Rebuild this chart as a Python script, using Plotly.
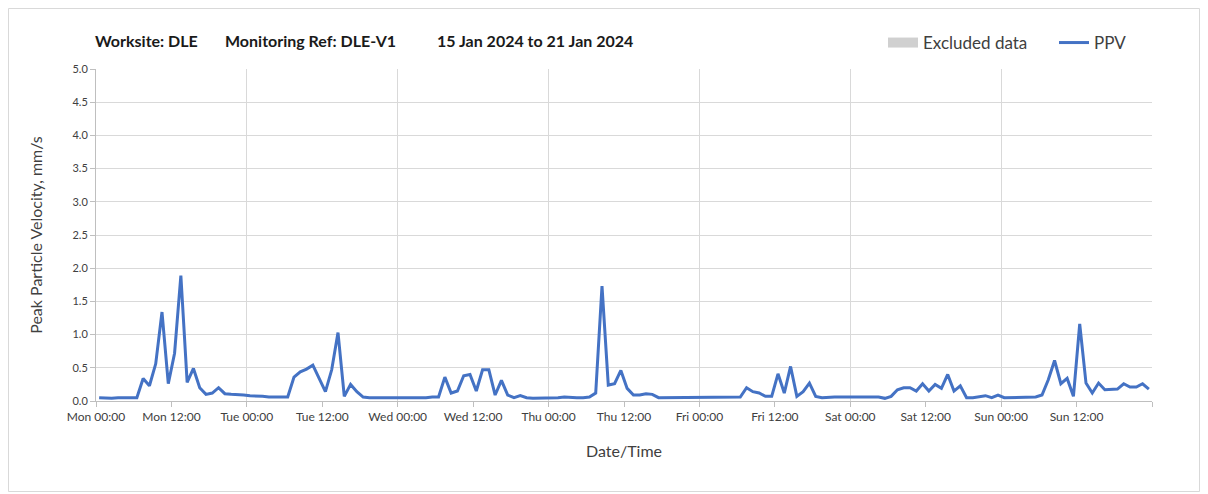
import pandas as pd
import plotly.graph_objects as go

# Hourly PPV readings (mm/s), Mon 15 Jan 2024 00:30 .. Sun 21 Jan 2024 23:30
times = pd.date_range("2024-01-15 00:30", periods=168, freq="h")
ppv = [
    0.05, 0.04, 0.04, 0.05, 0.05, 0.05, 0.05,
    0.34, 0.23, 0.56, 1.34, 0.26, 0.72, 1.89,
    0.28, 0.49, 0.20, 0.10, 0.12, 0.20, 0.11,
    0.10, 0.10, 0.09, 0.08, 0.08, 0.07, 0.06, 0.06, 0.06, 0.06,
    0.36, 0.44, 0.48, 0.54, 0.34, 0.14, 0.47, 1.03, 0.07, 0.25, 0.14, 0.06,
    0.05, 0.05, 0.05, 0.04, 0.05, 0.05, 0.05, 0.05, 0.05, 0.05, 0.06, 0.06,
    0.36, 0.12, 0.15, 0.38, 0.40, 0.15, 0.47, 0.47, 0.09, 0.31, 0.09, 0.05, 0.08, 0.05,
    0.04, 0.04, 0.05, 0.05, 0.05, 0.06, 0.05, 0.05, 0.05, 0.06,
    0.12, 1.73, 0.24, 0.26, 0.46, 0.19, 0.09, 0.09, 0.11, 0.10, 0.05,
    0.05, 0.05, 0.05, 0.05, 0.05, 0.05, 0.06, 0.05, 0.05, 0.05, 0.05, 0.05,
    0.06, 0.20, 0.14, 0.12, 0.07, 0.07, 0.41, 0.12, 0.52, 0.07, 0.14, 0.27, 0.07, 0.05,
    0.06, 0.06, 0.06, 0.06, 0.06, 0.06, 0.06, 0.06, 0.06,
    0.04, 0.07, 0.17, 0.20, 0.20, 0.15, 0.26, 0.15, 0.25, 0.19, 0.40, 0.15, 0.23,
    0.05, 0.05, 0.06, 0.08, 0.05, 0.09,
    0.05, 0.05, 0.05, 0.05, 0.05, 0.06,
    0.09, 0.32, 0.61, 0.26, 0.34, 0.07, 1.16, 0.27, 0.12, 0.27, 0.17, 0.18,
    0.18, 0.26, 0.21, 0.21, 0.26, 0.18,
]

tick_times = pd.date_range("2024-01-15 00:00", periods=15, freq="12h")
tick_labels = ["Mon 00:00", "Mon 12:00", "Tue 00:00", "Tue 12:00", "Wed 00:00",
               "Wed 12:00", "Thu 00:00", "Thu 12:00", "Fri 00:00", "Fri 12:00",
               "Sat 00:00", "Sat 12:00", "Sun 00:00", "Sun 12:00", ""]
x_range = ["2024-01-15 00:00", "2024-01-22 00:00"]

title_parts = ["Worksite: DLE", "Monitoring Ref: DLE-V1", "15 Jan 2024 to 21 Jan 2024"]
title_left_px = [85, 215, 427]

FONT = "Lato"
GRID = "#d9d9d9"
AXIS = "#bfbfbf"
TXT = "#404040"

W, H = 1192, 484
L, R, T, B = 88, 48, 61, 91
PW, PH = W - L - R, H - T - B

fig = go.Figure()

fig.add_trace(go.Scatter(
    x=[None], y=[None], name="Excluded data", mode="lines",
    line=dict(color="#d0d0d0", width=10), xaxis="x2", showlegend=True,
))
fig.add_trace(go.Scatter(
    x=times, y=ppv, mode="lines", name="PPV",
    line=dict(color="#4472C4", width=3),
))

for txt, px in zip(title_parts, title_left_px):
    fig.add_annotation(text=f"<b>{txt}</b>", xref="paper", yref="paper",
                       x=(px - L) / PW, y=(H - B - 32) / PH, xanchor="left", yanchor="middle",
                       showarrow=False, font=dict(family=FONT, size=16, color="#1a1a1a"))

fig.update_layout(
    width=W, height=H,
    margin=dict(l=L, r=R, t=T, b=B, autoexpand=False),
    paper_bgcolor="white", plot_bgcolor="white",
    font=dict(family=FONT, color=TXT, size=12),
    showlegend=True,
    legend=dict(orientation="h", x=(875 - L) / PW, xanchor="left",
                y=(H - B - 35) / PH, yanchor="middle",
                font=dict(size=17, color=TXT), bgcolor="rgba(0,0,0,0)",
                traceorder="normal", itemwidth=30, entrywidth=126, entrywidthmode="pixels"),
    xaxis=dict(
        type="date", range=x_range, tickmode="array", tickvals=tick_times, ticktext=tick_labels,
        showgrid=False, showline=True, linecolor=AXIS, linewidth=1,
        ticks="outside", ticklen=5, tickcolor=AXIS, tickfont=dict(size=12, color=TXT),
        title=dict(text="Date/Time", font=dict(size=16, color=TXT), standoff=22),
        zeroline=False, automargin=False,
    ),
    xaxis2=dict(
        type="date", range=x_range, overlaying="x", anchor="y", tickmode="linear",
        tick0="2024-01-15 00:00", dtick=86400000, showgrid=True, gridcolor=GRID,
        gridwidth=1, showticklabels=False, ticks="", showline=False, zeroline=False,
        automargin=False,
    ),
    yaxis=dict(
        range=[0, 5], dtick=0.5, tick0=0, tickformat=".1f",
        showgrid=True, gridcolor=GRID, gridwidth=1,
        showline=True, linecolor=AXIS, linewidth=1,
        ticks="outside", ticklen=5, tickcolor=AXIS, tickfont=dict(size=11, color=TXT),
        title=dict(text="Peak Particle Velocity, mm/s", font=dict(size=16, color=TXT), standoff=25),
        zeroline=False, automargin=False,
    ),
)

# light outer frame of the chart
fig.add_shape(type="rect", xref="paper", yref="paper",
              x0=-(L - 0.5) / PW, x1=(W - 0.5 - L) / PW,
              y0=-(B - 0.5) / PH, y1=(H - 0.5 - B) / PH,
              line=dict(color="#d9d9d9", width=1), fillcolor="rgba(0,0,0,0)", layer="below")

fig.write_html("out.html")
